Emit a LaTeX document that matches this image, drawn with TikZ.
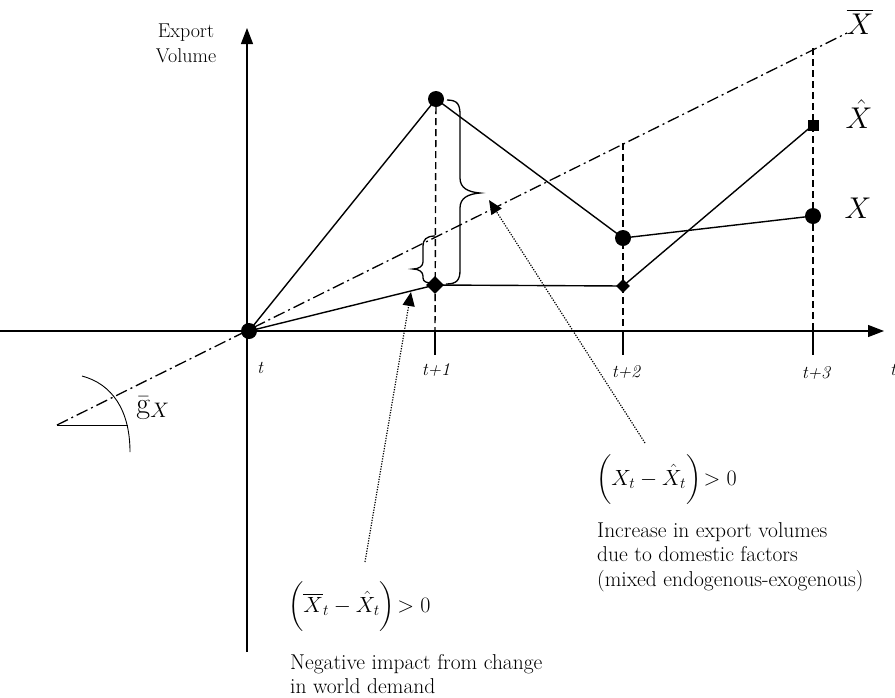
\RequirePackage{fix-cm}
\documentclass[tikz,border=0pt]{standalone}
\usepackage{amsmath}
\usetikzlibrary{arrows.meta,shapes.geometric}
\begin{document}
\begin{tikzpicture}[x=1pt,y=-1pt,
  txt/.style={font=\fontsize{21.5}{24.5}\selectfont,inner sep=0pt},
  tlab/.style={font=\fontsize{18}{20}\selectfont\itshape,inner sep=0pt},
  bigX/.style={font=\fontsize{30}{32}\selectfont,inner sep=0pt},
  frm/.style={font=\fontsize{22}{24}\selectfont,inner sep=0pt,anchor=west},
  bigdot/.style={circle,fill,inner sep=0pt,minimum size=16pt},
  smalldot/.style={diamond,fill,inner sep=0pt,minimum size=14pt},
  diam/.style={diamond,fill,inner sep=0pt,minimum size=18pt},
  sqr/.style={rectangle,fill,inner sep=0pt,minimum size=11pt},
  axis/.style={line width=1.2pt,-{Triangle[length=16pt,width=12pt]}},
  curve/.style={line width=1.4pt},
  vdash/.style={line width=1.4pt,dash pattern=on 7pt off 4pt},
  ddot/.style={line width=1.3pt,dash pattern=on 12pt off 4pt on 2pt off 4pt},
  pointer/.style={line width=1.2pt,dash pattern=on 1.2pt off 1.4pt,-{Triangle[length=14pt,width=12pt]}},
  brc/.style={line width=1.3pt},
  thin/.style={line width=0.9pt}]
\useasboundingbox (0,0) rectangle (895,697);

% axes
\coordinate (xl) at (0,331);
\coordinate (xr) at (884,331);
\coordinate (yb) at (247,652);
\coordinate (yt) at (247,28);
\draw[axis] (xl) -- (xr);
\draw[axis] (yb) -- (yt);

% X-bar trend line
\coordinate (bl) at (57,425);
\coordinate (br) at (847,33);
\draw[ddot] (bl) -- (br);

% angle mark
\coordinate (ah) at (128,425);
\coordinate (a1) at (82,376);
\coordinate (a2) at (130,452);
\draw[thin] (bl) -- (ah);
\draw[thin] (a1) .. controls (112,384) and (130,410) .. (a2);

% points
\node[bigdot] (O) at (249,331) {};
\node[bigdot] (A1) at (436,99) {};
\node[bigdot] (A2) at (623,238) {};
\node[bigdot] (A3) at (813,216) {};
\node[diam] (B1) at (435,285) {};
\node[smalldot] (B2) at (623,286) {};
\node[sqr] (B3) at (813,125) {};

% vertical guides
\coordinate (t1a) at (435,331);
\coordinate (t2a) at (623,331);
\coordinate (t3a) at (813,331);
\coordinate (t1b) at (435,355);
\coordinate (t2b) at (623,355);
\coordinate (t3b) at (813,355);
\coordinate (t2top) at (623,143);
\coordinate (t3top) at (813,48);
\draw[vdash] (A1) -- (t1a);
\draw[vdash] (t2top) -- (t2a);
\draw[vdash] (t3top) -- (t3a);
\draw[line width=1.4pt] (t1a) -- (t1b);
\draw[line width=1.4pt] (t2a) -- (t2b);
\draw[line width=1.4pt] (t3a) -- (t3b);

% X path and X-hat path
\draw[curve] (O.center) -- (A1.center) -- (A2.center) -- (A3.center);
\draw[curve] (O.center) -- (B1.center) -- (B2.center) -- (B3.center);

% big brace
\draw[brc] (447,100) .. controls (458,100) and (460,105) .. (460,115) -- (460,178)
  .. controls (460,188) and (468,192) .. (480,193)
  .. controls (468,194) and (460,198) .. (460,208) -- (460,270)
  .. controls (460,280) and (457,284) .. (446,284);
% small brace
\draw[brc] (435,236) .. controls (426,236) and (423,240) .. (423,246) -- (423,262)
  .. controls (423,266) and (419,269) .. (413,269)
  .. controls (419,269) and (423,272) .. (423,276) -- (423,278)
  .. controls (423,282) and (427,283) .. (433,283);

% pointers
\coordinate (p1s) at (365,562);
\coordinate (p1e) at (411,292);
\coordinate (p2s) at (645,443);
\coordinate (p2e) at (489,200);
\draw[pointer] (p1s) -- (p1e);
\draw[pointer] (p2s) -- (p2e);

% labels
\node[font=\fontsize{20}{25}\selectfont,inner sep=0pt,align=center,anchor=north] (ev) at (186,24) {Export\\Volume};
\node[tlab] (lt) at (260,368) {t};
\node[tlab] (lt1) at (436,370) {t+1};
\node[tlab] (lt2) at (626,372) {t+2};
\node[tlab] (lt3) at (816,373) {t+3};
\node[tlab] (ltr) at (893,370) {t};
\node[bigX] (lxb) at (860,22) {$\overline{X}$};
\node[bigX] (lxh) at (859,114) {$\hat{X}$};
\node[bigX] (lx) at (858,208) {$X$};
\node[font=\fontsize{30}{32}\selectfont,inner sep=0pt] (lg) at (153,408) {$\bar{\mathrm{g}}_X$};

\node[frm] (f1) at (288,607) {$\biggl(\overline{X}_t-\hat{X}_t\biggr)\!>0$};
\node[frm] (f2) at (596,480) {$\biggl(X_t-\hat{X}_t\biggr)\!>0$};
\node[txt,align=left,anchor=north west] (n1) at (290,654) {Negative impact from change\\in world demand};
\node[txt,align=left,anchor=north west] (n2) at (597,522) {Increase in export volumes\\due to domestic factors\\(mixed endogenous-exogenous)};
\end{tikzpicture}
\end{document}
